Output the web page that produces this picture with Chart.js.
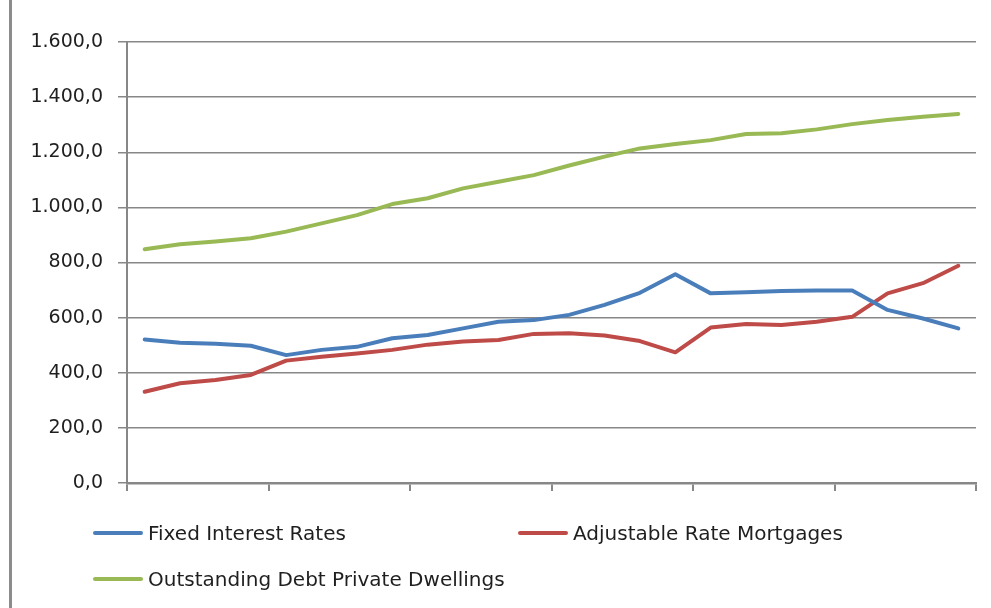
<!DOCTYPE html>
<html><head><meta charset="utf-8">
<script src="https://cdn.jsdelivr.net/npm/chart.js@4"></script>
<style>
html,body{margin:0;padding:0;background:#fff;}
#wrap{position:relative;width:991px;height:608px;overflow:hidden;background:#fff;}
#frame{position:absolute;left:9px;top:0;width:0;height:608px;border-left:3px solid #8c8c8c;}
#c{position:absolute;left:0;top:0;}
.leg{position:absolute;height:26px;display:flex;align-items:center;font-family:'DejaVu Sans';font-size:20px;color:#1f1f1f;white-space:nowrap;}
.leg i{display:inline-block;width:50px;height:4px;border-radius:2px;margin-right:5px;}
</style></head>
<body>
<div id="wrap"><div id="frame"></div><canvas id="c" width="991" height="608"></canvas><div id="legend"></div></div>
<script>
// Periods (24 quarters, no labels shown on the axis)
const categories = ['1','2','3','4','5','6','7','8','9','10','11','12',
                    '13','14','15','16','17','18','19','20','21','22','23','24'];
const fixedInterestRates = [521, 509, 505, 498, 464, 483, 494, 525, 537, 561, 585, 591,
                            610, 646, 690, 757, 688, 692, 697, 698, 698, 628, 597, 561];
const adjustableRateMortgages = [331, 362, 374, 392, 444, 458, 470, 483, 502, 513, 519, 541,
                                 543, 535, 515, 474, 564, 577, 573, 585, 603, 688, 725, 788];
const outstandingDebt = [848, 866, 876, 888, 912, 942, 972, 1012, 1033, 1069, 1093, 1117,
                         1152, 1184, 1214, 1230, 1244, 1266, 1269, 1283, 1302, 1317, 1329, 1339];
const yTickValues = [0, 200, 400, 600, 800, 1000, 1200, 1400, 1600];
const seriesNames = ['Fixed Interest Rates', 'Adjustable Rate Mortgages', 'Outstanding Debt Private Dwellings'];
const seriesColors = ['#4a7ebb', '#be4b48', '#98b954'];

function fmt(v) {
  const s = Number(v).toFixed(1);
  let [i, d] = s.split('.');
  i = i.replace(/\B(?=(\d{3})+(?!\d))/g, '.');
  return i + ',' + d;
}

const gridGrey = '#878787';
const seriesData = [fixedInterestRates, adjustableRateMortgages, outstandingDebt];

const chart = new Chart(document.getElementById('c'), {
  type: 'line',
  data: {
    labels: categories,
    datasets: seriesData.map((d, k) => ({
      label: seriesNames[k],
      data: d,
      borderColor: seriesColors[k],
      backgroundColor: seriesColors[k],
      borderWidth: 4,
      pointRadius: 0,
      pointHoverRadius: 0,
      tension: 0,
      fill: false,
      borderJoinStyle: 'round',
      borderCapStyle: 'round'
    }))
  },
  options: {
    responsive: false,
    animation: false,
    events: [],
    layout: { padding: { left: 0, right: 15, top: 42, bottom: 105 } },
    plugins: { legend: { display: false }, tooltip: { enabled: false } },
    scales: {
      x: {
        type: 'category',
        offset: true,
        grid: {
          offset: true,
          drawOnChartArea: false,
          drawTicks: true,
          tickLength: 8,
          lineWidth: 2,
          color: (ctx) => (ctx.index === undefined || ctx.index % 4 === 0) ? gridGrey : 'rgba(0,0,0,0)'
        },
        border: { display: true, color: gridGrey, width: 2.5 },
        ticks: { display: false },
        afterFit: (s) => { s.height = 20; }
      },
      y: {
        min: 0,
        max: 1600,
        afterBuildTicks: (s) => { s.ticks = yTickValues.map(v => ({ value: v })); },
        grid: {
          color: gridGrey,
          lineWidth: 1.5,
          drawTicks: true,
          tickLength: 9
        },
        border: { display: true, color: gridGrey, width: 2 },
        ticks: {
          padding: 15,
          color: '#1f1f1f',
          font: { family: 'DejaVu Sans', size: 19 },
          callback: (v) => fmt(v)
        },
        afterFit: (s) => { s.width = 127; }
      }
    }
  }
});

// HTML legend built from the chart's datasets
const legendPos = [[93, 520], [518, 520], [93, 566]];
const legendEl = document.getElementById('legend');
chart.data.datasets.forEach((ds, k) => {
  const div = document.createElement('div');
  div.className = 'leg';
  div.style.left = legendPos[k][0] + 'px';
  div.style.top = legendPos[k][1] + 'px';
  const sw = document.createElement('i');
  sw.style.background = ds.borderColor;
  div.appendChild(sw);
  div.appendChild(document.createTextNode(ds.label));
  legendEl.appendChild(div);
});
</script>
</body></html>
